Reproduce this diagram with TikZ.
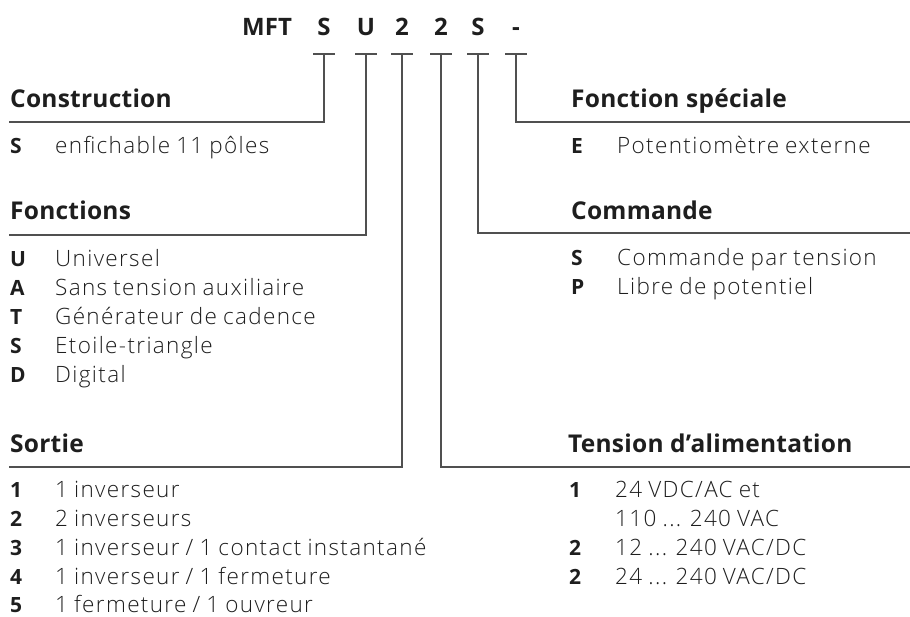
\documentclass[tikz,border=0pt]{standalone}
\usepackage{fontspec}
\setmainfont{Open Sans Light}[BoldFont={Open Sans Bold}]
\newfontfamily\bodyfont{Open Sans Light}[LetterSpace=6, WordSpace=0.85]
\newfontfamily\ttlfont{Open Sans Bold}[LetterSpace=1]
\definecolor{txt}{HTML}{1E1E1E}
\definecolor{lncol}{HTML}{505050}
\begin{document}
\begin{tikzpicture}[x=1pt,y=-1pt]
\tikzset{
 lbl/.style={anchor=base west, inner sep=0pt, text=txt, font=\bodyfont\fontsize{22.5}{26}\selectfont},
 key/.style={anchor=base west, inner sep=0pt, text=txt, font=\fontsize{21}{24}\selectfont\bfseries},
 ttl/.style={anchor=base west, inner sep=0pt, text=txt, font=\ttlfont\fontsize{24.5}{28}\selectfont},
 hdr/.style={anchor=base, inner sep=0pt, text=txt, font=\fontsize{24}{28}\selectfont\bfseries},
 ln/.style={draw=lncol, line width=1.1pt},
}
\useasboundingbox (0,0) rectangle (910,616);

% header
\node[hdr, anchor=base west] (mft) at (242,35) {MFT};
\node[hdr] (h1) at (324,35) {S};
\node[hdr] (h2) at (366,35) {U};
\node[hdr] (h3) at (402,35) {2};
\node[hdr] (h4) at (441,35) {2};
\node[hdr] (h5) at (478,35) {S};
\node[hdr] (h6) at (516,35) {-};

% tick coordinates and line ends
\coordinate (t1) at (324,54); \coordinate (e1) at (9,122);
\coordinate (t2) at (366,54); \coordinate (e2) at (9,235);
\coordinate (t3) at (402,54); \coordinate (e3) at (9,467);
\coordinate (t4) at (441,54); \coordinate (e4) at (910,467);
\coordinate (t5) at (478,54); \coordinate (e5) at (910,233);
\coordinate (t6) at (516,54); \coordinate (e6) at (910,122);

\foreach \t in {t1,t2,t3,t4,t5,t6}{
  \draw[ln] ([xshift=-11pt]\t) -- ([xshift=11pt]\t);
}
\draw[ln] (t1) |- (e1);
\draw[ln] (t2) |- (e2);
\draw[ln] (t3) |- (e3);
\draw[ln] (t4) |- (e4);
\draw[ln] (t5) |- (e5);
\draw[ln] (t6) |- (e6);

% left column
\node[ttl] (cons) at (10,107) {Construction};
\node[key] (consS) at (10,153) {S};
\node[lbl] (consSt) at (55,153) {enfichable 11 pôles};

\node[ttl] (fonc) at (10,219) {Fonctions};
\node[key] (fU) at (10,266) {U}; \node[lbl] (fUt) at (55,266) {Universel};
\node[key] (fA) at (10,295) {A}; \node[lbl] (fAt) at (55,295) {Sans tension auxiliaire};
\node[key] (fT) at (10,324) {T}; \node[lbl] (fTt) at (55,324) {Générateur de cadence};
\node[key] (fS) at (10,353) {S}; \node[lbl] (fSt) at (55,353) {Etoile-triangle};
\node[key] (fD) at (10,382) {D}; \node[lbl] (fDt) at (55,382) {Digital};

\node[ttl] (sort) at (10,452) {Sortie};
\node[key] (s1) at (10,497) {1}; \node[lbl] (s1t) at (55,497) {1 inverseur};
\node[key] (s2) at (10,526) {2}; \node[lbl] (s2t) at (55,526) {2 inverseurs};
\node[key] (s3) at (10,555) {3}; \node[lbl] (s3t) at (55,555) {1 inverseur / 1 contact instantané};
\node[key] (s4) at (10,584) {4}; \node[lbl] (s4t) at (55,584) {1 inverseur / 1 fermeture};
\node[key] (s5) at (10,612) {5}; \node[lbl] (s5t) at (55,612) {1 fermeture / 1 ouvreur};

% right column
\node[ttl] (fsp) at (571,107) {Fonction spéciale};
\node[key] (fspE) at (571,153) {E}; \node[lbl] (fspEt) at (617,153) {Potentiomètre externe};

\node[ttl] (cmd) at (571,219) {Commande};
\node[key] (cS) at (571,265) {S}; \node[lbl] (cSt) at (617,265) {Commande par tension};
\node[key] (cP) at (571,294) {P}; \node[lbl] (cPt) at (617,294) {Libre de potentiel};

\node[ttl] (ten) at (568,452) {Tension d’alimentation};
\node[key] (v1) at (569,497) {1}; \node[lbl] (v1t) at (615,497) {24 VDC/AC et};
\node[lbl] (v1b) at (615,526) {110 ... 240 VAC};
\node[key] (v2) at (569,555) {2}; \node[lbl] (v2t) at (615,555) {12 ... 240 VAC/DC};
\node[key] (v3) at (569,584) {2}; \node[lbl] (v3t) at (615,584) {24 ... 240 VAC/DC};
\end{tikzpicture}
\end{document}
